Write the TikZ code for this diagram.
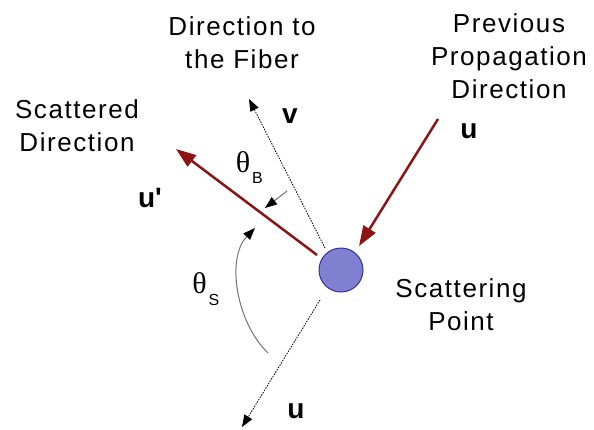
\documentclass[tikz,border=0pt]{standalone}
\usepackage{fontspec}
\setmainfont{Liberation Sans}
\newfontfamily\thfont{Liberation Serif}
\usetikzlibrary{arrows.meta}
\definecolor{darkred}{RGB}{140,20,20}
\definecolor{ballfill}{RGB}{128,128,208}
\definecolor{balledge}{RGB}{50,50,150}
\tikzset{
  lbl/.style={anchor=north,align=center,inner sep=0pt,font=\addfontfeature{LetterSpace=6}\fontsize{26bp}{33bp}\selectfont},
  vec/.style={anchor=base,inner sep=0pt,font=\fontsize{28bp}{30bp}\selectfont\bfseries},
  th/.style={inner sep=0pt,font=\thfont\fontsize{30bp}{32bp}\selectfont},
  sub/.style={inner sep=0pt,font=\fontsize{16bp}{18bp}\selectfont},
  redarrow/.style={darkred,line width=2.5bp,-{Triangle[length=20bp,width=14bp]}},
  dotarrow/.style={black,line width=0.8bp,dash pattern=on 1.5bp off 1.2bp,-{Triangle[length=12bp,width=9bp]}},
  anglearrow/.style={black!55,line width=1bp,-{Triangle[length=12bp,width=9bp,color=black,fill=black]}}
}
\begin{document}
\begin{tikzpicture}[x=1bp,y=-1bp]
\useasboundingbox (0,0) rectangle (594,429);
% scattering point
\node[circle,fill=ballfill,draw=balledge,line width=1bp,minimum size=44bp,inner sep=0pt] (sp) at (341,270) {};
% coordinates
\coordinate (inStart) at (438,119);
\coordinate (inTip) at (359,246);
\coordinate (scStart) at (317,255);
\coordinate (scTip) at (176,149);
\coordinate (vStart) at (325,248);
\coordinate (vTip) at (249,99);
\coordinate (uStart) at (320,300);
\coordinate (uTip) at (242,427);
\coordinate (tbStart) at (287,191);
\coordinate (tbTip) at (265,208);
\coordinate (tsStart) at (268,353);
\coordinate (tsTip) at (255,228);
% connectors
\draw[dotarrow] (vStart) -- (vTip);
\draw[dotarrow] (uStart) -- (uTip);
\draw[redarrow] (inStart) -- (inTip);
\draw[redarrow] (scStart) -- (scTip);
\draw[anglearrow] (tbStart) -- (tbTip);
\draw[anglearrow] (tsStart) .. controls (236,322) and (226,258) .. (tsTip);
% labels
\node[lbl] (prev) at (509,13.5) {Previous\\Propagation\\Direction};
\node[lbl] (fiber) at (242,16.5) {Direction to\\the Fiber};
\node[lbl] (scat) at (77,99.5) {Scattered\\Direction};
\node[lbl] (spt) at (461,278.5) {Scattering\\Point};
\node[vec] (uin) at (469,138) {u};
\node[vec] (vlab) at (290,123) {v};
\node[vec] (uprime) at (150,207) {u\textquotesingle};
\node[vec] (uout) at (296,418) {u};
\node[th] (thB) at (243,162) {θ};
\node[sub] (subB) at (257.5,177.5) {B};
\node[th] (thS) at (199.5,283) {θ};
\node[sub] (subS) at (214,300) {S};
\end{tikzpicture}
\end{document}
